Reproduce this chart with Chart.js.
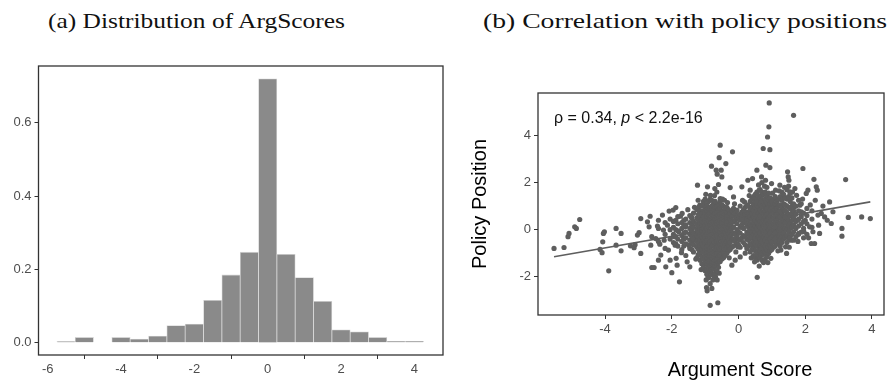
<!DOCTYPE html>
<html>
<head>
<meta charset="utf-8">
<script src="https://cdn.jsdelivr.net/npm/chart.js@4"></script>
<style>
  body { margin: 0; background: #fff; width: 888px; height: 385px; overflow: hidden; position: relative; }
  canvas { position: absolute; top: 0; }
  .title { position: absolute; top: 7px; font-family: "Liberation Serif", serif; font-size: 22px; line-height: 28px; color: #111; white-space: nowrap; transform-origin: left center; }
</style>
</head>
<body>
<div class="title" id="titleA" style="left:48px">(a) Distribution of ArgScores</div>
<div class="title" id="titleB" style="left:483px">(b) Correlation with policy positions</div>
<canvas id="histChart" width="450" height="385" style="left:0"></canvas>
<canvas id="scatterChart" width="433" height="385" style="left:455px"></canvas>
<script>
// histogram of argument scores (bin width 0.5)
const histBinCenters = [-5.5, -5, -4, -3.5, -3, -2.5, -2, -1.5, -1, -0.5, 0, 0.5, 1, 1.5, 2, 2.5, 3, 3.5, 4];
const histDensity = [0.003, 0.0145, 0.0145, 0.010, 0.018, 0.047, 0.051, 0.116, 0.185, 0.247, 0.72, 0.241, 0.178, 0.113, 0.035, 0.030, 0.0145, 0.004, 0.004];
const histXTicks = [-6, -4, -2, 0, 2, 4];
const histYTicks = [0, 0.2, 0.4, 0.6];

// scatter: isolated points [argScore, policyPosition]
const scatterOutliers = [
  [-5.53,-0.80],[-5.23,-0.76],[-5.11,-0.30],[-5.08,-0.16],[-4.91,0.12],[-4.86,0.05],[-4.76,0.43],
  [-4.15,-0.84],[-4.09,-0.98],[-4.05,-0.16],[-4.02,-0.09],[-4.07,-0.52],[-3.89,-1.75],[-3.67,0.05],
  [-3.67,-0.66],[-3.52,-0.16],[-3.52,-0.90],[-3.24,-0.69],[-3.13,-0.77],[-3.10,-0.64],[-3.03,-0.23],
  [-2.98,-0.13],[-2.93,0.47],[-2.93,-1.01],[-2.73,0.33],[-2.68,0.12],[-2.65,0.57],[-2.63,-0.66],
  [-2.60,-0.30],[-2.60,-1.61],[-2.53,-1.61],[-2.48,-0.38],[-2.43,0.15],[-2.40,-1.30],[-2.36,-0.62],
  [-2.33,-1.08],[-2.28,0.62],[-2.25,-0.02],[-2.23,-0.45],[-2.18,-1.58],[-2.13,0.19],[-2.10,-0.87],
  [-2.08,0.79],[-2.05,-1.30],[-2.00,-1.83],[-1.96,0.83],[-1.93,-0.30],[-1.90,-0.66],[-1.88,0.94],
  [-1.87,-1.22],[-1.84,-1.51],[-1.79,-0.09],[-1.77,-2.22],[-1.74,0.57],[-1.71,-0.98],[-1.69,0.69],
  [-1.64,-0.38],[-1.59,0.12],[-1.54,-1.37],[-1.49,-0.66],[-1.46,-1.58],[-1.44,-0.16],[-1.41,0.52],
  [-1.37,0.15],[-1.34,-0.30],[-1.29,-0.45],[-1.23,1.89],[-1.21,1.25],[-1.21,-1.08],[-1.19,-0.09],
  [-1.16,1.04],[-1.14,0.40],[-1.11,0.12],[-1.09,-0.73],[-1.06,-0.59],[-1.04,1.08],[-1.01,0.26],
  [-0.99,-1.46],[-0.97,-2.14],[-0.96,-2.46],[-0.94,-2.60],[-0.93,1.82],[-0.91,-2.00],[-0.89,-1.58],
  [-0.87,-0.33],[-0.85,-3.22],[-0.84,1.46],[-0.81,2.70],[-0.79,0.69],[-0.77,-2.14],[-0.74,-0.94],
  [-0.71,1.75],[-0.69,-2.00],[-0.67,2.53],[-0.64,2.36],[-0.64,-2.14],[-0.62,-3.11],[-0.60,1.92],
  [-0.58,3.06],[-0.55,3.59],[-0.55,1.32],[-0.52,2.53],[-0.50,2.24],[-0.45,-1.01],[-0.42,1.25],
  [-0.38,2.81],[-0.35,0.12],[-0.30,-0.30],[-0.25,1.79],[-0.20,-1.51],[-0.18,3.31],[-0.15,1.39],
  [-0.10,-1.30],[-0.05,0.83],[-0.02,-0.73],[0.05,-1.16],[0.10,1.82],[0.15,-0.30],[0.18,1.18],
  [0.22,0.54],[0.28,2.10],[0.30,-0.09],[0.35,1.68],[0.38,0.76],[0.42,2.17],[0.45,0.12],[0.48,-1.37],
  [0.52,1.14],[0.55,2.53],[0.56,-2.03],[0.58,-1.01],[0.62,1.68],[0.64,-0.80],[0.67,-1.08],[0.69,2.24],
  [0.71,1.46],[0.74,3.45],[0.77,-0.45],[0.81,2.10],[0.82,2.74],[0.87,3.94],[0.89,-1.01],[0.91,4.37],
  [0.92,5.39],[0.94,3.40],[0.94,2.64],[0.97,-1.22],[0.99,1.96],[1.01,1.11],[1.07,-0.02],[1.11,1.68],
  [1.14,-0.59],[1.19,0.69],[1.24,1.89],[1.27,-0.87],[1.31,1.32],[1.34,-0.16],[1.39,0.40],[1.41,-0.73],
  [1.44,-1.01],[1.47,2.46],[1.49,2.24],[1.51,2.10],[1.54,1.61],[1.57,-0.45],[1.61,0.12],[1.65,4.86],
  [1.67,0.97],[1.69,1.75],[1.74,1.46],[1.77,0.40],[1.80,-0.16],[1.84,1.04],[1.88,0.76],[1.93,2.60],
  [1.96,-0.09],[2.00,0.40],[2.03,1.54],[2.08,1.68],[2.13,0.12],[2.18,-0.59],[2.23,-0.09],[2.26,2.14],
  [2.28,-0.59],[2.30,1.25],[2.33,1.82],[2.36,1.68],[2.38,0.62],[2.40,0.19],[2.43,-0.16],[2.48,0.69],
  [2.53,1.00],[2.58,0.54],[2.66,0.40],[2.73,1.18],[2.78,0.26],[2.83,0.76],[3.10,0.05],[3.10,-0.28],
  [3.21,2.13],[3.29,0.52],[3.69,0.54],[3.95,0.47],
  // ragged edge of the central cloud
  [-1.52,0.85],[-1.32,0.95],[-1.28,-1.25],[-1.12,-1.70],[-0.98,1.50],[-0.72,1.45],[-0.58,-1.85],
  [-0.48,1.30],[-0.33,1.15],[-0.28,-1.20],[-0.12,1.10],[-0.08,-0.95],[0.12,1.25],[0.20,-1.00],
  [0.32,1.45],[0.38,-1.20],[0.62,-1.55],[0.78,1.85],[0.88,-1.40],[1.02,1.55],[1.18,-0.90],
  [1.22,1.65],[1.38,1.80],[1.52,-0.75],[1.62,1.60],[1.78,-0.50],[1.92,1.30],[2.10,-0.35],[2.15,1.05]
];

// dense central cloud, read column by column: [argScore, [policyPositions...]]
const cloudColumns = [
  [-2.40, [-0.5, 0.05, 0.4]],
  [-2.20, [-0.8, -0.2, 0.3]],
  [-2.05, [-0.4, 0.0, 0.45]],
  [-1.95, [-0.55, -0.2, 0.1, 0.35]],
  [-1.88, [-0.6, -0.3, 0.0, 0.4]],
  [-1.82, [-0.7, -0.4, -0.05, 0.25, 0.55]],
  [-1.70, [-0.85, -0.5, -0.25, 0.05, 0.3]],
  [-1.64, [-0.7, -0.4, -0.15, 0.15, 0.4]],
  [-1.58, [-1.1, -0.6, -0.35, -0.1, 0.2, 0.45]],
  [-1.46, [-0.8, -0.45, -0.2, 0.05, 0.3, 0.6]],
  [-1.40, [-0.85, -0.55, -0.3, -0.05, 0.2, 0.5]],
  [-1.35, [-0.95, -0.65, -0.4, -0.15, 0.1, 0.35, 0.7]],
  [-1.25, [-1.2, -0.75, -0.5, -0.25, 0, 0.25, 0.5, 0.85]],
  [-1.20, [-1.05, -0.85, -0.6, -0.35, -0.1, 0.15, 0.4, 0.65, 0.95]],
  [-1.15, [-1.3, -1.0, -0.7, -0.45, -0.2, 0.05, 0.3, 0.55, 0.8]],
  [-1.10, [-1.45, -1.15, -0.85, -0.6, -0.3, -0.05, 0.2, 0.45, 0.7, 1.0]],
  [-1.05, [-1.6, -1.25, -0.95, -0.7, -0.45, -0.2, 0.05, 0.3, 0.55, 0.8, 1.2]],
  [-1.00, [-1.75, -1.35, -1.1, -0.8, -0.55, -0.3, -0.1, 0.15, 0.4, 0.7, 0.95, 1.3]],
  [-0.95, [-1.9, -1.7, -1.45, -1.2, -0.95, -0.7, -0.45, -0.2, 0.05, 0.3, 0.55, 0.8, 1.05]],
  [-0.90, [-2.05, -1.6, -1.35, -1.1, -0.85, -0.6, -0.35, -0.1, 0.15, 0.4, 0.65, 0.9, 1.2]],
  [-0.85, [-2.3, -1.8, -1.55, -1.3, -1.05, -0.8, -0.55, -0.3, -0.05, 0.2, 0.45, 0.7, 0.95, 1.3]],
  [-0.80, [-2.5, -1.9, -1.7, -1.45, -1.2, -0.95, -0.7, -0.45, -0.2, 0.05, 0.3, 0.55, 0.8, 1.0, 1.25]],
  [-0.75, [-1.95, -1.65, -1.4, -1.15, -0.9, -0.65, -0.4, -0.15, 0.1, 0.35, 0.6, 0.85, 1.1]],
  [-0.70, [-1.85, -1.55, -1.3, -1.05, -0.8, -0.55, -0.3, -0.05, 0.2, 0.45, 0.7, 0.95, 1.2]],
  [-0.65, [-1.75, -1.5, -1.25, -1.0, -0.75, -0.5, -0.25, 0, 0.25, 0.5, 0.75, 1.0, 1.6]],
  [-0.60, [-1.6, -1.4, -1.15, -0.9, -0.65, -0.4, -0.15, 0.1, 0.35, 0.6, 0.85, 1.1]],
  [-0.55, [-1.35, -1.1, -0.85, -0.6, -0.35, -0.1, 0.15, 0.4, 0.65, 0.9, 1.2]],
  [-0.50, [-1.25, -1.0, -0.75, -0.5, -0.25, 0.0, 0.25, 0.5, 0.75, 1.05]],
  [-0.45, [-1.2, -0.95, -0.7, -0.45, -0.2, 0.05, 0.3, 0.55, 0.8, 1.0]],
  [-0.40, [-1.1, -0.85, -0.6, -0.35, -0.1, 0.15, 0.4, 0.65, 0.9]],
  [-0.35, [-1.0, -0.75, -0.5, -0.25, 0.0, 0.25, 0.5, 0.75, 0.95]],
  [-0.30, [-0.9, -0.65, -0.4, -0.15, 0.1, 0.35, 0.6, 0.85]],
  [-0.25, [-0.85, -0.55, -0.3, -0.05, 0.2, 0.45, 0.7]],
  [-0.20, [-0.75, -0.45, -0.2, 0.05, 0.3, 0.55, 0.8]],
  [-0.15, [-0.7, -0.4, -0.15, 0.1, 0.35, 0.6, 0.9]],
  [-0.10, [-0.5, -0.2, 0.4, 0.7]],
  [-0.05, [-0.6, -0.3, 0.0, 0.25, 0.5, 0.8]],
  [0.00, [-0.65, -0.4, -0.1, 0.45, 0.6]],
  [0.05, [-0.75, -0.45, -0.15, 0.1, 0.4, 0.65, 1.0]],
  [0.10, [-0.35, 0.2, 0.5, 0.75]],
  [0.15, [-0.55, -0.25, 0.05, 0.3, 0.6, 0.85]],
  [0.20, [-0.65, -0.3, 0.35, 0.65, 0.95]],
  [0.25, [-0.8, -0.4, -0.1, 0.2, 0.45, 0.75, 1.05]],
  [0.30, [-0.7, -0.45, -0.2, 0.1, 0.4, 0.7, 1.0]],
  [0.35, [-0.95, -0.6, -0.3, 0.0, 0.25, 0.55, 0.85, 1.2]],
  [0.40, [-0.85, -0.65, -0.35, -0.1, 0.15, 0.45, 0.7, 0.95, 1.3]],
  [0.45, [-1.1, -0.8, -0.5, -0.2, 0.05, 0.3, 0.55, 0.8, 1.1, 1.4]],
  [0.50, [-1.2, -0.9, -0.6, -0.35, -0.1, 0.15, 0.4, 0.65, 0.95, 1.2, 1.5]],
  [0.55, [-1.3, -1.0, -0.7, -0.45, -0.2, 0.05, 0.3, 0.55, 0.8, 1.05, 1.3, 1.6]],
  [0.60, [-1.15, -0.85, -0.55, -0.3, -0.05, 0.2, 0.45, 0.7, 0.95, 1.2, 1.45, 1.9]],
  [0.65, [-1.2, -0.9, -0.65, -0.4, -0.15, 0.1, 0.35, 0.6, 0.85, 1.1, 1.35, 1.7]],
  [0.70, [-1.3, -1.0, -0.75, -0.5, -0.25, 0.0, 0.25, 0.5, 0.75, 1.0, 1.25, 1.6, 2.0]],
  [0.75, [-1.4, -1.05, -0.8, -0.55, -0.3, -0.05, 0.2, 0.45, 0.7, 0.95, 1.2, 1.5]],
  [0.80, [-1.25, -0.95, -0.7, -0.45, -0.2, 0.05, 0.3, 0.55, 0.8, 1.05, 1.3, 1.6]],
  [0.85, [-1.15, -0.85, -0.6, -0.35, -0.1, 0.15, 0.4, 0.65, 0.9, 1.15, 1.45, 1.8]],
  [0.90, [-1.0, -0.75, -0.5, -0.25, 0.0, 0.25, 0.5, 0.75, 1.0, 1.25, 1.55]],
  [0.95, [-0.9, -0.65, -0.4, -0.15, 0.1, 0.35, 0.6, 0.85, 1.1, 1.35]],
  [1.00, [-0.85, -0.55, -0.3, -0.05, 0.2, 0.45, 0.7, 0.95, 1.2]],
  [1.05, [-0.75, -0.5, -0.25, 0.0, 0.25, 0.5, 0.75, 1.0, 1.3]],
  [1.10, [-0.7, -0.4, -0.15, 0.1, 0.35, 0.6, 0.85, 1.1, 1.4]],
  [1.15, [-0.6, -0.35, -0.1, 0.15, 0.4, 0.65, 0.9, 1.2]],
  [1.20, [-0.5, -0.25, 0.0, 0.25, 0.5, 0.75, 1.0, 1.3]],
  [1.25, [-0.7, -0.45, -0.2, 0.05, 0.3, 0.55, 0.8, 1.05, 1.4]],
  [1.30, [-0.55, -0.3, -0.05, 0.2, 0.45, 0.7, 0.95, 1.25, 1.6]],
  [1.35, [-0.4, -0.15, 0.1, 0.35, 0.6, 0.85, 1.1, 1.5]],
  [1.40, [-0.3, 0.05, 0.3, 0.55, 0.8, 1.05, 1.35]],
  [1.45, [-0.55, -0.25, 0.0, 0.25, 0.5, 0.75, 1.0, 1.3, 1.7]],
  [1.50, [-0.4, -0.1, 0.15, 0.4, 0.65, 0.95, 1.4, 1.85]],
  [1.55, [-0.3, 0.05, 0.3, 0.6, 0.9, 1.2, 1.55]],
  [1.60, [-0.2, 0.1, 0.4, 0.7, 1.0, 1.35]],
  [1.65, [-0.45, -0.1, 0.2, 0.5, 0.8, 1.1]],
  [1.72, [-0.3, 0.05, 0.35, 0.65, 1.0]],
  [1.80, [-0.2, 0.15, 0.45, 0.8, 1.25]],
  [1.88, [-0.1, 0.25, 0.55, 1.1]],
  [1.95, [-0.35, 0.05, 0.35, 0.7]],
  [2.05, [-0.2, 0.25, 0.6, 0.9]],
  [2.20, [0.1, 0.45, 0.8]]
];

// fitted line endpoints
const fitX = [-5.53, 3.95];
const fitY = [-1.15, 1.18];
const scatterXTicks = [-4, -2, 0, 2, 4];
const scatterYTicks = [-2, 0, 2, 4];

const tickFont = { family: "Liberation Sans, Arial, sans-serif", size: 13 };
const tickColor = '#4d4d4d';

// fit titles to the width seen in the figure
function fitTitle(id, target) {
    const el = document.getElementById(id);
    const w = el.getBoundingClientRect().width;
    el.style.transform = `scaleX(${target / w})`;
}
fitTitle('titleA', 297);
fitTitle('titleB', 404);

function fixedTicks(values) {
    return scale => { scale.ticks = values.map(v => ({ value: v })); };
}

const boxPlugin = {
    id: 'box',
    afterDatasetsDraw(chart) {
        const a = chart.chartArea;
        const ctx = chart.ctx;
        ctx.save();
        ctx.strokeStyle = '#333';
        ctx.lineWidth = 1.3;
        ctx.strokeRect(a.left, a.top, a.right - a.left, a.bottom - a.top);
        ctx.restore();
    }
};

function axisOpts(min, max, ticks, fmt, size, isX) {
    return {
        type: 'linear',
        min: min,
        max: max,
        offset: false,
        afterBuildTicks: fixedTicks(ticks),
        afterFit: s => { if (isX) s.height = size; else s.width = size; },
        border: { display: false },
        grid: { drawOnChartArea: false, drawTicks: true, tickLength: 4, tickColor: '#333', tickWidth: 1 },
        ticks: { color: tickColor, font: tickFont, padding: 3, maxRotation: 0, autoSkip: false, callback: fmt }
    };
}

// (a) histogram
new Chart(document.getElementById('histChart').getContext('2d'), {
    type: 'bar',
    data: {
        datasets: [{
            data: histBinCenters.map((x, i) => ({ x: x, y: histDensity[i] })),
            backgroundColor: '#8a8a8a',
            borderColor: '#d4d4d4',
            borderWidth: 0.8,
            barPercentage: 1,
            categoryPercentage: 1
        }]
    },
    options: {
        responsive: false,
        animation: false,
        devicePixelRatio: 1,
        layout: { padding: { top: 66, right: 7, left: 0, bottom: 0 } },
        plugins: { legend: { display: false }, tooltip: { enabled: false } },
        scales: {
            x: axisOpts(-6.25, 4.78, histXTicks, v => String(v), 30, true),
            y: axisOpts(-0.0335, 0.755, histYTicks, v => v.toFixed(1), 38.5, false)
        }
    },
    plugins: [boxPlugin]
});

// (b) scatter
const scatterPoints = scatterOutliers.map(p => ({ x: p[0], y: p[1] }));
cloudColumns.forEach(col => col[1].forEach(y => scatterPoints.push({ x: col[0], y: y })));

const scatterText = {
    id: 'scatterText',
    afterDraw(chart) {
        const ctx = chart.ctx;
        const a = chart.chartArea;
        ctx.save();
        ctx.fillStyle = '#111';
        ctx.textBaseline = 'alphabetic';
        ctx.textAlign = 'left';
        const normal = '16px "Liberation Sans", Arial, sans-serif';
        const italic = 'italic 16px "Liberation Sans", Arial, sans-serif';
        let x = a.left + 16;
        const y = a.top + 30;
        const parts = [['ρ = 0.34, ', normal], ['p', italic], [' < 2.2e-16', normal]];
        parts.forEach(([t, f]) => { ctx.font = f; ctx.fillText(t, x, y); x += ctx.measureText(t).width; });

        ctx.fillStyle = '#000';
        ctx.font = '20px "Liberation Sans", Arial, sans-serif';
        ctx.textAlign = 'center';
        ctx.textBaseline = 'middle';
        ctx.fillText('Argument Score', 285, 370);
        ctx.translate(25, (a.top + a.bottom) / 2);
        ctx.rotate(-Math.PI / 2);
        ctx.fillText('Policy Position', 0, 0);
        ctx.restore();
    }
};

new Chart(document.getElementById('scatterChart').getContext('2d'), {
    type: 'scatter',
    data: {
        datasets: [{
            data: scatterPoints,
            backgroundColor: '#5e5e5e',
            borderWidth: 0,
            pointRadius: 2.6
        }, {
            type: 'line',
            data: fitX.map((x, i) => ({ x: x, y: fitY[i] })),
            borderColor: '#5e5e5e',
            borderWidth: 1.6,
            pointRadius: 0,
            fill: false
        }]
    },
    options: {
        responsive: false,
        animation: false,
        devicePixelRatio: 1,
        layout: { padding: { top: 93, right: 2, left: 0, bottom: 0 } },
        plugins: { legend: { display: false }, tooltip: { enabled: false } },
        scales: {
            x: axisOpts(-6.01, 4.36, scatterXTicks, v => String(v), 70, true),
            y: axisOpts(-3.63, 5.81, scatterYTicks, v => String(v), 83, false)
        }
    },
    plugins: [boxPlugin, scatterText]
});
</script>
</body>
</html>
